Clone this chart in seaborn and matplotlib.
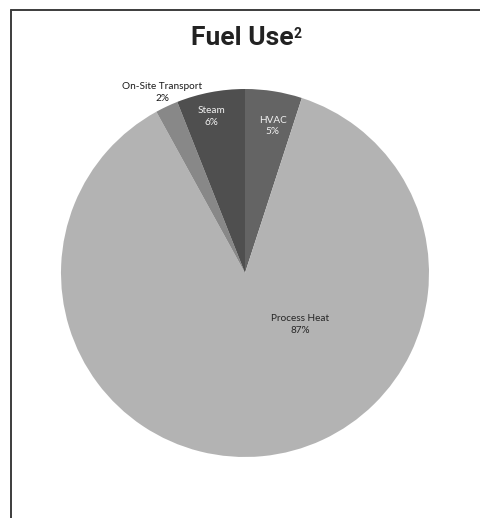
import matplotlib
matplotlib.use("Agg")
import matplotlib.pyplot as plt
from matplotlib.lines import Line2D
import seaborn as sns

# Fuel use breakdown (percent), listed clockwise from 12 o'clock
categories = ["HVAC", "Process Heat", "On-Site Transport", "Steam"]
shares = [5, 87, 2, 6]
colors = ["#646464", "#b3b3b3", "#888888", "#4f4f4f"]
label_colors = ["#f2f2f2", "#262626", "#1a1a1a", "#f2f2f2"]
# label anchors in units of the pie radius
label_pos = [(0.15, 0.80), (0.30, -0.28), (-0.45, 0.98), (-0.18, 0.85)]

sns.set_theme(style="white")
plt.rcParams["font.family"] = ["Lato", "DejaVu Sans"]

W, H = 481, 518
fig = plt.figure(figsize=(W / 100, H / 100), dpi=100)

cx, cy, r = 245, 273, 184
ax = fig.add_axes([(cx - r) / W, (H - cy - r) / H, 2 * r / W, 2 * r / H])
ax.pie(shares, colors=colors, startangle=90, counterclock=False, radius=1,
       wedgeprops=dict(linewidth=0))
ax.set_xlim(-1, 1)
ax.set_ylim(-1, 1)
ax.set_aspect("equal")
ax.axis("off")

for name, val, (lx, ly), tc in zip(categories, shares, label_pos, label_colors):
    ax.text(lx, ly, f"{name}\n{val}%", ha="center", va="center",
            fontsize=7.2, color=tc, linespacing=1.35)

title = fig.text(242 / W, 1 - 38 / H, "Fuel Use", ha="center", va="center",
                 fontsize=19, fontweight="bold", color="#222222",
                 family=["Roboto", "DejaVu Sans"])
ax.annotate("2", xy=(1.0, 1.0), xycoords=title, xytext=(0.3, -1),
            textcoords="offset points", ha="left", va="top",
            fontsize=10, fontweight="bold", color="#222222",
            family=["Roboto", "DejaVu Sans"], annotation_clip=False)

# frame lines along the top and left edges
fig.add_artist(Line2D([11 / W, 1.0], [1 - 9.5 / H, 1 - 9.5 / H],
                      transform=fig.transFigure, color="#3c3c3c", lw=1.4))
fig.add_artist(Line2D([11 / W, 11 / W], [1 - 9.5 / H, 0.0],
                      transform=fig.transFigure, color="#3c3c3c", lw=1.4))

fig.savefig("out.png", dpi=100, facecolor="white")
